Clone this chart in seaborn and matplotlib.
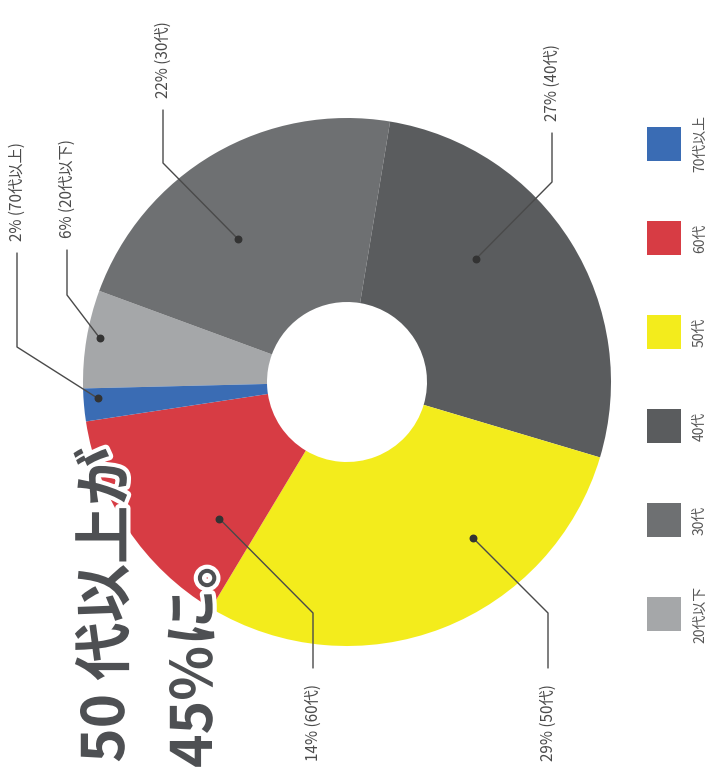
import numpy as np
import matplotlib.pyplot as plt
import matplotlib.patheffects as pe
from matplotlib.patches import Rectangle
import seaborn as sns

sns.set_theme(style='white')
plt.rcParams['font.family'] = ['Noto Sans CJK JP', 'DejaVu Sans']

# データ（構成比 %）
categories = ['20代以下', '30代', '40代', '50代', '60代', '70代以上']
shares = [6, 22, 27, 29, 14, 2]
colors = ['#a5a7a9', '#6e7072', '#5a5c5e', '#f3ec1c', '#d73c44', '#3a6cb4']
title_lines = ['50 代以上が', '45%に。']

W, H = 713, 776

def px(x, y):
    # 画像座標（上が0）-> データ座標
    return x, H - y

fig = plt.figure(figsize=(W / 100, H / 100), dpi=100)
ax = fig.add_axes([0, 0, 1, 1])

# ドーナツ
cx, cy = px(347, 382)
R, r_hole = 264, 80
wedges, _ = ax.pie(shares, colors=colors, startangle=181.4, counterclock=False,
                   radius=R, center=(cx, cy),
                   wedgeprops=dict(width=R - r_hole, linewidth=0))

# ラベルの引き出し線（位置は画像座標）
label_layout = {
    '70代以上': dict(frac=0.68, r=250, elbow=(17, 347), end=(17, 253)),
    '20代以下': dict(frac=0.53, r=251, elbow=(67, 295), end=(67, 250)),
    '30代': dict(frac=0.41, r=180, elbow=(163, 163), end=(163, 110)),
    '40代': dict(frac=0.38, r=178, elbow=(552, 182), end=(552, 133)),
    '50代': dict(frac=0.33, r=201, elbow=(548, 613), end=(548, 668)),
    '60代': dict(frac=0.24, r=187, elbow=(313, 613), end=(313, 668)),
}

for w, cat, val in zip(wedges, categories, shares):
    lay = label_layout[cat]
    ang = np.deg2rad(w.theta2 - lay['frac'] * (w.theta2 - w.theta1))
    dx, dy = cx + lay['r'] * np.cos(ang), cy + lay['r'] * np.sin(ang)
    ex, ey = px(*lay['elbow'])
    tx, ty = px(*lay['end'])
    ax.plot([dx, ex, tx], [dy, ey, ty], color='#4a4a4a', lw=1.0, zorder=3)
    ax.scatter([dx], [dy], s=22, color='#333333', zorder=4)
    if ty > ey:
        ax.text(tx, ty + 12, f'{val}% ({cat})', rotation=90, ha='center', va='bottom',
                fontsize=11, color='#4a4a4a')
    else:
        ax.text(tx, ty - 16, f'{val}% ({cat})', rotation=90, ha='center', va='top',
                fontsize=11, color='#4a4a4a')

# タイトル（回転）
stroke = [pe.withStroke(linewidth=6, foreground='white')]
ax.text(*px(107, 447), title_lines[0], rotation=90, ha='center', va='top',
        fontsize=42, fontweight='bold', color='#4e5053', path_effects=stroke, zorder=5)
ax.text(*px(195, 532), title_lines[1], rotation=90, ha='center', va='top',
        fontsize=41, fontweight='bold', color='#4e5053', path_effects=stroke, zorder=5)

# 凡例
sq = 34
for i, (cat, col) in enumerate(zip(categories, colors)):
    lx, ly = px(664, 614 - i * 94)
    ax.add_patch(Rectangle((lx - sq / 2, ly - sq / 2), sq, sq, color=col, lw=0))
    ax.text(lx + 36, ly, cat, rotation=90, ha='center', va='center',
            fontsize=10, color='#555555')

ax.set_xlim(0, W)
ax.set_ylim(0, H)
ax.set_aspect('equal')
ax.axis('off')

fig.savefig('out.png', dpi=100)
